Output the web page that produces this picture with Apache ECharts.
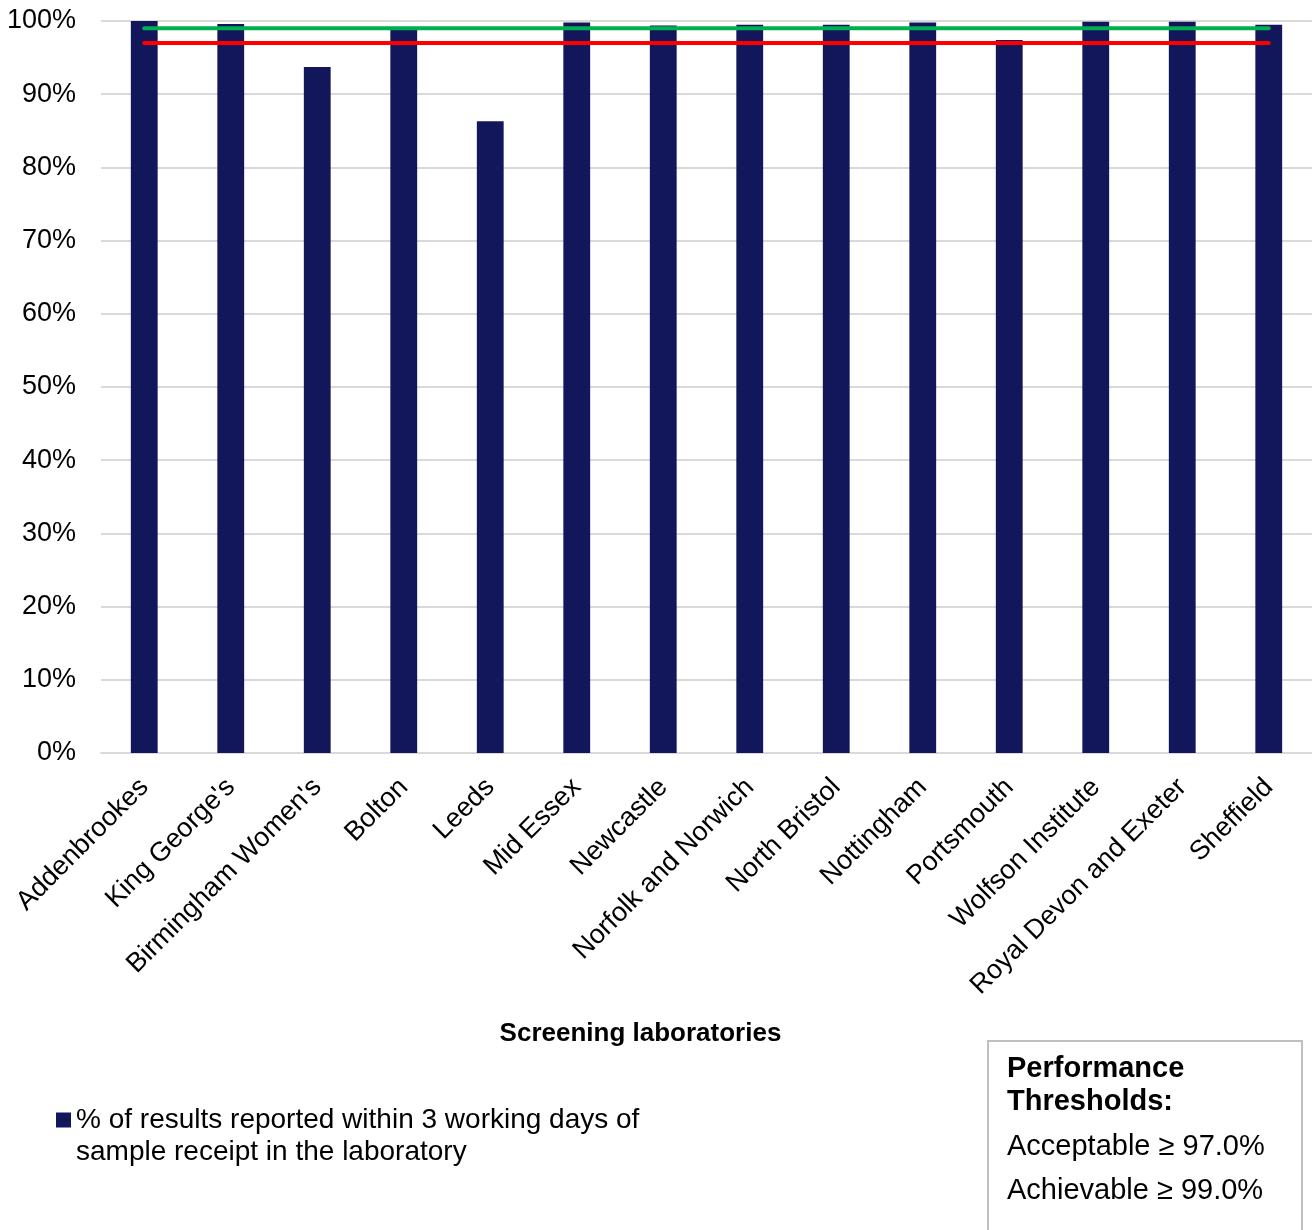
<!DOCTYPE html>
<html>
<head>
<meta charset="utf-8">
<script src="https://cdn.jsdelivr.net/npm/echarts@6/dist/echarts.min.js"></script>
<style>
html,body{margin:0;padding:0;background:#fff;}
#chart{width:1312px;height:1230px;}
</style>
</head>
<body>
<div id="chart"></div>
<script>
const categories = ["Addenbrookes","King George's","Birmingham Women's","Bolton","Leeds","Mid Essex","Newcastle","Norfolk and Norwich","North Bristol","Nottingham","Portsmouth","Wolfson Institute","Royal Devon and Exeter","Sheffield"];
const reportedWithin3Days = [100.0, 99.6, 93.7, 98.9, 86.3, 99.8, 99.4, 99.5, 99.5, 99.8, 97.4, 99.9, 99.9, 99.5];
const achievable = [99, 99, 99, 99, 99, 99, 99, 99, 99, 99, 99, 99, 99, 99];
const acceptable = [97, 97, 97, 97, 97, 97, 97, 97, 97, 97, 97, 97, 97, 97];
const yTicks = [0, 10, 20, 30, 40, 50, 60, 70, 80, 90, 100];
const seriesName = "% of results reported within 3 working days of\nsample receipt in the laboratory";
const boxLines = ["Performance", "Thresholds:", "Acceptable \u2265 97.0%", "Achievable \u2265 99.0%"];

const FONT = '"Liberation Sans", Arial, sans-serif';
const chart = echarts.init(document.getElementById('chart'), null, {renderer: 'canvas'});
chart.setOption({
  animation: false,
  backgroundColor: '#ffffff',
  textStyle: {fontFamily: FONT},
  grid: {left: 101, right: 0, top: 21, bottom: 477, containLabel: false},
  legend: {
    data: [seriesName],
    left: 56, top: 1104, padding: 0,
    icon: 'path://M0,0L15,0L15,15L0,15Z M0,47L0,47',
    itemWidth: 15, itemHeight: 47, itemGap: 6,
    textStyle: {fontFamily: FONT, fontSize: 28, color: '#000', lineHeight: 32}
  },
  xAxis: {
    type: 'category',
    data: categories,
    boundaryGap: true,
    name: 'Screening laboratories',
    nameLocation: 'middle',
    nameGap: 268,
    nameTextStyle: {fontFamily: FONT, fontSize: 26, fontWeight: 'bold', color: '#000', padding: [0, 132, 0, 0]},
    axisLine: {show: true, lineStyle: {color: '#d9d9d9', width: 2}},
    axisTick: {show: false},
    axisLabel: {rotate: 45, fontSize: 27, color: '#000', margin: 30, interval: 0, fontFamily: FONT}
  },
  yAxis: {
    type: 'value',
    min: yTicks[0], max: yTicks[yTicks.length - 1], interval: 10,
    axisLine: {show: false},
    axisTick: {show: false},
    splitLine: {show: true, lineStyle: {color: '#d9d9d9', width: 2}},
    axisLabel: {formatter: '{value}%', fontSize: 27, color: '#000', margin: 25, fontFamily: FONT}
  },
  series: [
    {
      name: seriesName,
      type: 'bar',
      data: reportedWithin3Days,
      barWidth: '31%',
      itemStyle: {color: '#12175c'},
      z: 2
    },
    {
      name: 'Achievable',
      type: 'line',
      data: achievable,
      symbol: 'none',
      lineStyle: {color: '#00b050', width: 4, cap: 'round'},
      z: 4
    },
    {
      name: 'Acceptable',
      type: 'line',
      data: acceptable,
      symbol: 'none',
      lineStyle: {color: '#ff0000', width: 4, cap: 'round'},
      z: 4
    }
  ],
  graphic: [
    {type: 'rect', left: 987, top: 1040, shape: {width: 314, height: 200}, style: {fill: '#fff', stroke: '#bfbfbf', lineWidth: 2}},
    {type: 'text', left: 1007, top: 1054, style: {text: boxLines[0], font: 'bold 29px ' + FONT, fill: '#000'}},
    {type: 'text', left: 1007, top: 1087, style: {text: boxLines[1], font: 'bold 29px ' + FONT, fill: '#000'}},
    {type: 'text', left: 1007, top: 1132, style: {text: boxLines[2], font: '29px ' + FONT, fill: '#000'}},
    {type: 'text', left: 1007, top: 1176, style: {text: boxLines[3], font: '29px ' + FONT, fill: '#000'}}
  ]
});
</script>
</body>
</html>
